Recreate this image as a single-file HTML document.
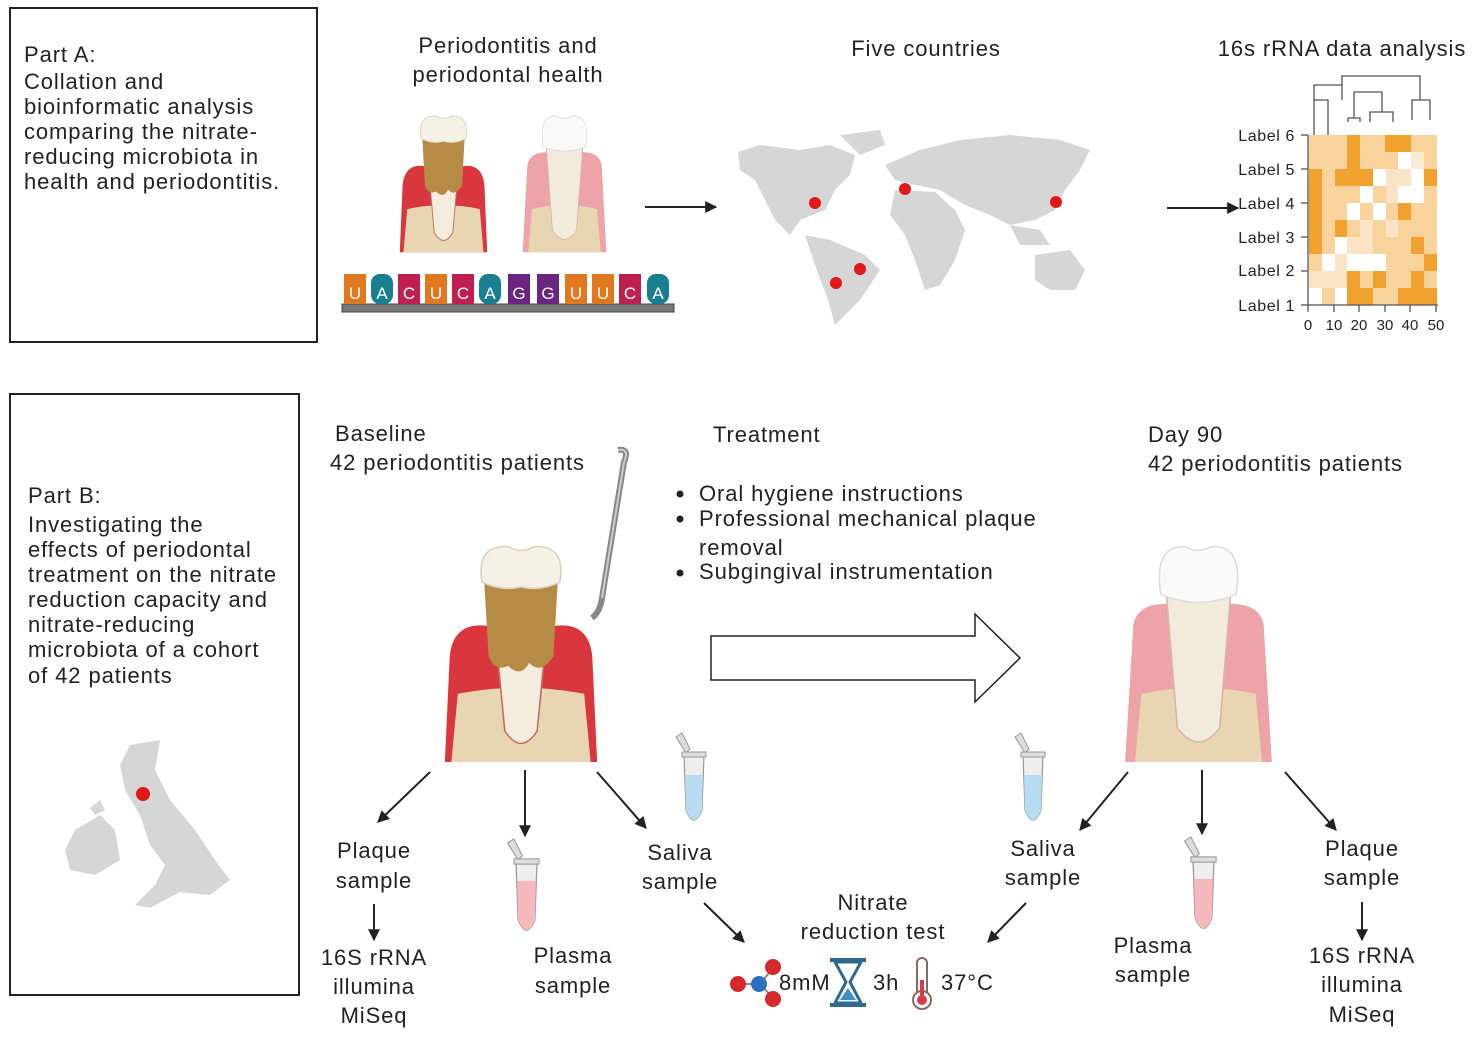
<!DOCTYPE html>
<html><head><meta charset="utf-8"><style>
html,body{margin:0;padding:0;background:#fff;}
svg{display:block;font-family:"Liberation Sans",Arial,sans-serif;}
.t{letter-spacing:0.9px;}
</style></head><body>
<svg width="1476" height="1039" viewBox="0 0 1476 1039" xmlns="http://www.w3.org/2000/svg">
<defs>
<marker id="ah" viewBox="0 0 10 10" refX="9" refY="5" markerWidth="6" markerHeight="6" orient="auto"><path d="M0,0 L10,5 L0,10Z" fill="#222"/></marker>
<g id="dtooth">
<path d="M3,140 L6,72 Q8,50 28,52 Q40,54 45,62 L55,62 Q60,54 72,52 Q92,50 94,72 L97,140Z" fill="#d9363e"/>
<path d="M7,140 L11,96 Q50,88 89,96 L93,140Z" fill="#e8d6b2"/>
<path d="M34,55 L40,120 Q50,136 60,120 L66,55Z" fill="#f4ecdc" stroke="#c07060" stroke-width="1"/>
<path d="M27,18 L73,18 L70,72 Q62,84 55,76 Q50,86 42,78 Q34,82 30,72Z" fill="#b58b45"/>
<path d="M26,24 Q22,0 42,1 Q50,6 58,1 Q78,0 74,24 Q62,30 50,27 Q38,30 26,24Z" fill="#f6f1e6" stroke="#ddd2bb"/>
</g>
<g id="htooth">
<path d="M5,140 L10,52 Q12,38 30,38 L70,38 Q88,38 90,52 L95,140Z" fill="#eda3a7"/>
<path d="M11,140 L15,96 Q50,88 85,96 L89,140Z" fill="#e8d6b2"/>
<path d="M30,28 L37,118 Q50,136 63,118 L70,28Z" fill="#f2ebdc" stroke="#d9b7a5"/>
<path d="M27,32 Q22,0 42,1 Q50,6 58,1 Q78,0 73,32 Q50,42 27,32Z" fill="#fafafa" stroke="#ddd"/>
</g>
<g id="tube">
<path d="M0,0 L20,0 L18,55 Q10,75 2,55Z" fill="#eee" stroke="#999" stroke-width="1.2"/>
<path d="M-8,-18 L-2,-22 L6,-6 L2,-2Z" fill="#ddd" stroke="#999"/>
<rect x="-2" y="-3" width="24" height="5" fill="#ddd" stroke="#999"/>
</g>
</defs>

<rect x="10" y="8" width="307" height="334" fill="none" stroke="#222" stroke-width="2"/>
<rect x="10" y="394" width="289" height="601" fill="none" stroke="#222" stroke-width="2"/>

<g font-size="22" fill="#222" class="t">
<text x="24" y="62">Part A:</text>
<text x="24" y="89">Collation and</text>
<text x="24" y="114">bioinformatic analysis</text>
<text x="24" y="139">comparing the nitrate-</text>
<text x="24" y="164">reducing microbiota in</text>
<text x="24" y="189">health and periodontitis.</text>

<text x="28" y="503">Part B:</text>
<text x="28" y="532">Investigating the</text>
<text x="28" y="557">effects of periodontal</text>
<text x="28" y="582">treatment on the nitrate</text>
<text x="28" y="607">reduction capacity and</text>
<text x="28" y="632">nitrate-reducing</text>
<text x="28" y="657">microbiota of a cohort</text>
<text x="28" y="683">of 42 patients</text>

<text x="508" y="53" text-anchor="middle">Periodontitis and</text>
<text x="508" y="82" text-anchor="middle">periodontal health</text>
<text x="926" y="56" text-anchor="middle">Five countries</text>
<text x="1342" y="56" text-anchor="middle">16s rRNA data analysis</text>

<text x="335" y="441">Baseline</text>
<text x="330" y="470">42 periodontitis patients</text>
<text x="713" y="442">Treatment</text>
<text x="699" y="501">Oral hygiene instructions</text>
<text x="699" y="526">Professional mechanical plaque</text>
<text x="699" y="555">removal</text>
<text x="699" y="579">Subgingival instrumentation</text>
<text x="1148" y="442">Day 90</text>
<text x="1148" y="471">42 periodontitis patients</text>
<text x="850" y="665" text-anchor="middle">3 months healing</text>

<g text-anchor="middle">
<text x="374" y="858">Plaque</text><text x="374" y="888">sample</text>
<text x="374" y="965">16S rRNA</text><text x="374" y="994">illumina</text><text x="374" y="1023">MiSeq</text>
<text x="573" y="963">Plasma</text><text x="573" y="993">sample</text>
<text x="680" y="860">Saliva</text><text x="680" y="889">sample</text>
<text x="873" y="910">Nitrate</text><text x="873" y="939">reduction test</text>
<text x="1043" y="856">Saliva</text><text x="1043" y="885">sample</text>
<text x="1153" y="953">Plasma</text><text x="1153" y="982">sample</text>
<text x="1362" y="856">Plaque</text><text x="1362" y="885">sample</text>
<text x="1362" y="963">16S rRNA</text><text x="1362" y="992">illumina</text><text x="1362" y="1022">MiSeq</text>
</g>
<text x="779" y="990">8mM</text>
<text x="873" y="990">3h</text>
<text x="941" y="990">37°C</text>
</g>
<g fill="#222"><circle cx="680" cy="494" r="3.5"/><circle cx="680" cy="519" r="3.5"/><circle cx="680" cy="573" r="3.5"/></g>

<use href="#dtooth" transform="translate(397,115) scale(0.93,0.98)"/>
<use href="#htooth" transform="translate(518,115) scale(0.93,0.98)"/>
<rect x="342" y="304" width="332" height="8" fill="#777" stroke="#444"/>
<g font-size="17" fill="#fff" text-anchor="middle">
<rect x="344" y="274" width="22" height="30" fill="#e07820"/><text x="355" y="299">U</text>
<rect x="371" y="274" width="22" height="30" rx="9" fill="#177f8f"/><text x="382" y="299">A</text>
<rect x="398" y="274" width="22" height="30" fill="#c02050"/><text x="409" y="299">C</text>
<rect x="425" y="274" width="22" height="30" fill="#e07820"/><text x="436" y="299">U</text>
<rect x="452" y="274" width="22" height="30" fill="#c02050"/><text x="463" y="299">C</text>
<rect x="479" y="274" width="22" height="30" rx="9" fill="#177f8f"/><text x="490" y="299">A</text>
<rect x="508" y="274" width="22" height="30" fill="#6a2580"/><text x="519" y="299">G</text>
<rect x="537" y="274" width="22" height="30" fill="#6a2580"/><text x="548" y="299">G</text>
<rect x="565" y="274" width="22" height="30" fill="#e07820"/><text x="576" y="299">U</text>
<rect x="592" y="274" width="22" height="30" fill="#e07820"/><text x="603" y="299">U</text>
<rect x="619" y="274" width="22" height="30" fill="#c02050"/><text x="630" y="299">C</text>
<rect x="647" y="274" width="22" height="30" rx="9" fill="#177f8f"/><text x="658" y="299">A</text>
</g>
<line x1="645" y1="207" x2="716" y2="207" stroke="#222" stroke-width="2" marker-end="url(#ah)"/>

<g fill="#d6d6d6">
<path d="M738,152 L760,145 L800,150 L830,145 L855,155 L850,175 L835,190 L825,210 L800,220 L790,235 L775,220 L765,200 L755,180 L740,170Z"/>
<path d="M840,135 L880,130 L885,145 L860,155Z"/>
<path d="M805,235 L830,240 L865,255 L880,270 L860,300 L845,315 L835,325 L828,300 L815,265Z"/>
<path d="M885,165 L920,150 L960,140 L1010,135 L1060,140 L1090,150 L1080,170 L1065,190 L1055,210 L1035,220 L1010,225 L990,215 L965,205 L940,190 L915,185 L895,180Z"/>
<path d="M895,190 L935,192 L955,210 L965,230 L955,260 L940,285 L925,290 L915,260 L905,235 L890,215Z"/>
<path d="M1035,255 L1070,250 L1085,270 L1075,290 L1050,290 L1035,280Z"/>
<path d="M1010,225 L1040,230 L1050,245 L1020,245Z"/>
</g>
<g fill="#e01818"><circle cx="815" cy="203" r="6"/><circle cx="905" cy="189" r="6"/><circle cx="1056" cy="202" r="6"/><circle cx="860" cy="269" r="6"/><circle cx="836" cy="283" r="6"/></g>

<line x1="1167" y1="208" x2="1238" y2="208" stroke="#222" stroke-width="2" marker-end="url(#ah)"/>

<use href="#dtooth" transform="translate(440,545) scale(1.62,1.55)"/>
<use href="#htooth" transform="translate(1117,545) scale(1.63,1.55)"/>
<path d="M618,450 Q630,448 624,462 L602,598 Q600,612 592,618" stroke="#888" stroke-width="6" fill="none"/>
<path d="M618,450 Q630,448 624,462 L602,598" stroke="#ccc" stroke-width="2" fill="none"/>

<path d="M711,636 H975 V614 L1020,658 L975,702 V680 H711Z" fill="#fff" stroke="#222" stroke-width="1.5"/>

<g stroke="#222" stroke-width="2" marker-end="url(#ah)">
<line x1="430" y1="772" x2="378" y2="822"/>
<line x1="525" y1="770" x2="525" y2="836"/>
<line x1="597" y1="772" x2="646" y2="828"/>
<line x1="374" y1="904" x2="374" y2="940"/>
<line x1="704" y1="903" x2="744" y2="942"/>
<line x1="1026" y1="903" x2="988" y2="942"/>
<line x1="1128" y1="772" x2="1080" y2="830"/>
<line x1="1202" y1="770" x2="1202" y2="834"/>
<line x1="1285" y1="772" x2="1336" y2="830"/>
<line x1="1362" y1="902" x2="1362" y2="940"/>
</g>

<g transform="translate(684,755)"><use href="#tube"/><path d="M1,20 L19,20 L18,55 Q10,75 2,55Z" fill="#b8dcf2"/></g>
<g transform="translate(516,862) scale(1.05)"><use href="#tube"/><path d="M1,18 L19,18 L18,55 Q10,75 2,55Z" fill="#f5b9bd"/></g>
<g transform="translate(1023,755)"><use href="#tube"/><path d="M1,20 L19,20 L18,55 Q10,75 2,55Z" fill="#b8dcf2"/></g>
<g transform="translate(1193,860) scale(1.05)"><use href="#tube"/><path d="M1,18 L19,18 L18,55 Q10,75 2,55Z" fill="#f5b9bd"/></g>

<g fill="#d6d6d6">
<path d="M130,745 L160,740 L155,770 L170,800 L195,830 L215,860 L230,880 L210,895 L180,892 L150,908 L135,905 L155,885 L165,865 L150,845 L140,815 L125,790 L120,765Z"/>
<path d="M75,830 L100,815 L115,830 L120,860 L95,875 L70,870 L65,850Z"/>
<path d="M90,808 L100,800 L105,810 L95,815Z"/>
</g>
<circle cx="143" cy="794" r="7" fill="#e01818"/>

<g stroke="#888" stroke-width="2"><line x1="738" y1="984" x2="760" y2="984"/><line x1="760" y1="984" x2="773" y2="968"/><line x1="760" y1="984" x2="773" y2="998"/></g>
<circle cx="738" cy="984" r="8" fill="#d42a2a"/><circle cx="759" cy="984" r="8" fill="#2b6fc0"/>
<circle cx="773" cy="967" r="8" fill="#d42a2a"/><circle cx="773" cy="999" r="8" fill="#d42a2a"/>
<g fill="#2e6a8e"><rect x="830" y="958" width="36" height="4"/><rect x="830" y="1003" width="36" height="4"/></g>
<path d="M835,962 L861,962 L850,982 L861,1003 L835,1003 L846,982Z" fill="none" stroke="#2e6a8e" stroke-width="3"/>
<path d="M840,1000 L856,1000 L848,988Z" fill="#3a8fd0"/>
<rect x="917" y="958" width="10" height="40" rx="5" fill="#fff" stroke="#8a6a60" stroke-width="2"/>
<circle cx="922" cy="1000" r="9" fill="#fff" stroke="#8a6a60" stroke-width="2"/>
<circle cx="922" cy="1000" r="5" fill="#d83a4a"/><rect x="920" y="980" width="4" height="18" fill="#d83a4a"/>

<!-- heatmap -->
<g>
<rect x="1309" y="135" width="128" height="170" fill="#f8d39c"/>
<rect x="1347" y="135" width="13" height="17" fill="#f0a12e"/><rect x="1385" y="135" width="26" height="17" fill="#f0a12e"/>
<rect x="1347" y="152" width="13" height="17" fill="#f0a12e"/><rect x="1398" y="152" width="13" height="17" fill="#fff"/><rect x="1411" y="152" width="13" height="17" fill="#fcebd4"/>
<rect x="1309" y="169" width="13" height="17" fill="#f0a12e"/><rect x="1335" y="169" width="38" height="17" fill="#f0a12e"/><rect x="1373" y="169" width="13" height="17" fill="#fff"/><rect x="1386" y="169" width="25" height="17" fill="#fbe4c6"/><rect x="1411" y="169" width="13" height="17" fill="#fff"/><rect x="1424" y="169" width="13" height="17" fill="#f0a12e"/>
<rect x="1309" y="186" width="13" height="17" fill="#f0a12e"/><rect x="1360" y="186" width="13" height="17" fill="#fff"/><rect x="1386" y="186" width="12" height="17" fill="#fbe4c6"/><rect x="1398" y="186" width="26" height="17" fill="#fff"/>
<rect x="1309" y="203" width="13" height="17" fill="#f0a12e"/><rect x="1347" y="203" width="13" height="17" fill="#fff"/><rect x="1373" y="203" width="13" height="17" fill="#fff"/><rect x="1398" y="203" width="13" height="17" fill="#f0a12e"/>
<rect x="1309" y="220" width="13" height="17" fill="#f0a12e"/><rect x="1335" y="220" width="12" height="17" fill="#f0a12e"/><rect x="1360" y="220" width="13" height="17" fill="#fbe4c6"/><rect x="1386" y="220" width="12" height="17" fill="#fbe4c6"/>
<rect x="1309" y="237" width="13" height="17" fill="#f0a12e"/><rect x="1335" y="237" width="12" height="17" fill="#fff"/><rect x="1347" y="237" width="26" height="17" fill="#fbe4c6"/><rect x="1411" y="237" width="13" height="17" fill="#f0a12e"/>
<rect x="1322" y="254" width="13" height="17" fill="#fff"/><rect x="1335" y="254" width="12" height="17" fill="#fbe4c6"/><rect x="1347" y="254" width="39" height="17" fill="#fff"/><rect x="1424" y="254" width="13" height="17" fill="#f0a12e"/>
<rect x="1309" y="271" width="38" height="17" fill="#fbe4c6"/><rect x="1347" y="271" width="13" height="17" fill="#f0a12e"/><rect x="1373" y="271" width="13" height="17" fill="#f0a12e"/><rect x="1411" y="271" width="13" height="17" fill="#f0a12e"/>
<rect x="1309" y="288" width="13" height="17" fill="#fff"/><rect x="1335" y="288" width="12" height="17" fill="#fff"/><rect x="1347" y="288" width="26" height="17" fill="#f0a12e"/><rect x="1398" y="288" width="39" height="17" fill="#f0a12e"/>
</g>
<g stroke="#555" fill="none" stroke-width="1.3">
<path d="M1314,135 V100 H1328 V135"/>
<path d="M1314,100 V85 H1342 V100"/>
<path d="M1348,122 V118 H1360 V122"/>
<path d="M1370,122 V112 H1393 V122"/>
<path d="M1354,118 V92 H1382 V112"/>
<path d="M1412,120 V100 H1430 V120"/>
<path d="M1342,85 V76 H1420 V100"/>
<line x1="1308" y1="135" x2="1308" y2="305"/><line x1="1308" y1="305" x2="1438" y2="305"/>
<line x1="1301" y1="135" x2="1308" y2="135"/><line x1="1301" y1="169" x2="1308" y2="169"/><line x1="1301" y1="203" x2="1308" y2="203"/><line x1="1301" y1="237" x2="1308" y2="237"/><line x1="1301" y1="271" x2="1308" y2="271"/><line x1="1301" y1="305" x2="1308" y2="305"/>
<line x1="1308" y1="305" x2="1308" y2="312"/><line x1="1334" y1="305" x2="1334" y2="312"/><line x1="1359" y1="305" x2="1359" y2="312"/><line x1="1385" y1="305" x2="1385" y2="312"/><line x1="1410" y1="305" x2="1410" y2="312"/><line x1="1436" y1="305" x2="1436" y2="312"/>
</g>
<g font-size="16" fill="#222" text-anchor="end" style="letter-spacing:0.6px">
<text x="1295" y="141">Label 6</text><text x="1295" y="175">Label 5</text><text x="1295" y="209">Label 4</text>
<text x="1295" y="243">Label 3</text><text x="1295" y="276">Label 2</text><text x="1295" y="311">Label 1</text>
</g>
<g font-size="15" fill="#222" text-anchor="middle">
<text x="1308" y="330">0</text><text x="1334" y="330">10</text><text x="1359" y="330">20</text>
<text x="1385" y="330">30</text><text x="1410" y="330">40</text><text x="1436" y="330">50</text>
</g>
</svg>
</body></html>
